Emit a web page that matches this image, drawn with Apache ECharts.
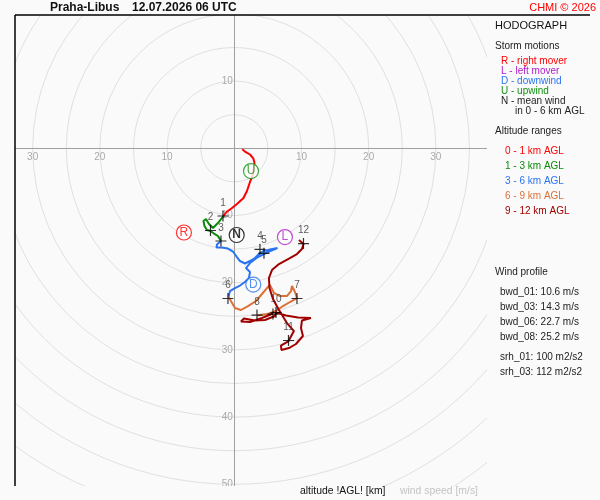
<!DOCTYPE html>
<html>
<head>
<meta charset="utf-8" />
<title>Hodograph</title>
<style>
html, body { margin: 0; padding: 0; background: #fafafa; }
#hodo { width: 600px; height: 500px; }
</style>
</head>
<body>
<div id="hodo"></div>
<script src="https://cdn.jsdelivr.net/npm/echarts@6/dist/echarts.min.js"></script>
<script>
// wind components u, v in m/s, one array per altitude range
var track01 = [[1.19,-0.15],[1.59,-0.48],[2.34,-0.92],[2.83,-1.49],[3.01,-2.19],[2.93,-2.93],[2.71,-4.12],
  [2.34,-5.01],[1.89,-6.35],[1.37,-7.40],[0.40,-8.29],[-0.42,-8.96],[-1.09,-9.40],[-1.61,-10.07]];
var track13 = [[-1.61,-10.07],[-2.43,-11.12],[-3.17,-11.86],[-3.76,-11.26],[-4.21,-10.52],[-4.58,-10.82],
  [-4.43,-11.56],[-4.06,-12.16],[-3.54,-12.31],[-3.02,-12.68],[-2.43,-13.05],[-1.98,-13.79]];
var track36 = [[-1.98,-13.79],[-2.57,-14.32],[-2.65,-14.76],[-1.83,-14.76],[-0.94,-14.91],[-0.19,-15.36],
  [0.33,-16.10],[0.85,-16.77],[1.59,-17.14],[2.34,-16.77],[3.08,-16.32],[3.82,-15.58],[4.42,-15.28],
  [5.31,-15.06],[6.43,-14.84],[5.01,-15.43],[3.53,-16.18],[2.34,-17.07],[1.74,-17.81],[2.34,-18.41],
  [2.19,-19.30],[1.59,-19.90],[0.85,-20.42],[0.10,-20.79],[-0.64,-21.24],[-0.86,-22.10]];
var track69 = [[-0.86,-22.10],[0.10,-23.77],[1.00,-24.06],[2.04,-23.47],[3.23,-22.72],[4.12,-21.68],
  [4.87,-20.79],[5.31,-20.34],[5.91,-21.53],[6.80,-21.98],[7.84,-21.98],[8.44,-21.24],[8.59,-20.49],
  [9.03,-21.38],[9.33,-22.28],[8.29,-22.87],[7.25,-23.47],[6.21,-24.21],[5.01,-24.66],[3.38,-24.88],
  [4.57,-24.73],[5.76,-24.58]];
var track912 = [[5.76,-24.58],[4.12,-25.25],[2.34,-25.85],[1.00,-25.77],[1.44,-25.33],[3.08,-25.63],
  [4.57,-25.55],[6.06,-24.96],[6.21,-24.43],[7.69,-24.88],[9.48,-25.18],[11.41,-25.25],[10.07,-25.63],
  [9.93,-26.74],[10.22,-27.93],[9.18,-29.12],[8.14,-29.72],[7.02,-30.01],[6.95,-29.35],[8.07,-28.68],
  [8.88,-27.19],[7.84,-26.00],[6.65,-24.06],[5.76,-22.43],[5.24,-20.79],[5.16,-19.30],[5.61,-18.11],
  [6.65,-17.22],[8.14,-16.40],[9.33,-15.73],[10.07,-14.99],[10.30,-14.24],[9.63,-13.65]];

var layerNames = ['0 - 1 km AGL', '1 - 3 km AGL', '3 - 6 km AGL', '6 - 9 km AGL', '9 - 12 km AGL'];
var layerColors = ['#ff0000', '#0a8a0a', '#2a74f0', '#dc7038', '#a00000'];

// wind at every km above ground
var kmLabels = ['1','2','3','4','5','6','7','8','9','10','11','12'];
var kmPoints = [[-1.68,-10.07],[-3.54,-12.23],[-1.98,-13.79],[3.82,-15.03],[4.42,-15.63],[-0.94,-22.35],
  [9.33,-22.35],[3.38,-24.81],[5.76,-24.66],[6.21,-24.43],[8.07,-28.60],[10.30,-14.17]];

// storm motions
var stormLetters = ['R', 'L', 'D', 'U', 'N'];
var stormPoints = [[-7.49,-12.53],[7.54,-13.20],[2.83,-20.27],[2.49,-3.38],[0.36,-12.90]];
var stormColors = ['#ff0000', '#b020c8', '#2a74f0', '#109010', '#000000'];
var stormNames = ['R - right mover', 'L - left mover', 'D - downwind', 'U - upwind', 'N - mean wind'];

var xTicks = [-30, -20, -10, 10, 20, 30];
var yTicks = [10, -10, -20, -30, -40, -50];
var ringStep = 5;

var profileLines = ['bwd_01: 10.6 m/s', 'bwd_03: 14.3 m/s', 'bwd_06: 22.7 m/s', 'bwd_08: 25.2 m/s'];
var helicityLines = ['srh_01: 100 m2/s2', 'srh_03: 112 m2/s2'];

var FONT = 'Liberation Sans, Arial, sans-serif';
var BG = '#fafafa';

function txt(x, y, s, color, size, align, weight) {
  return {
    type: 'text', x: x, y: y, z: 60,
    style: {
      text: s, fill: color, font: (weight || 'normal') + ' ' + size + 'px ' + FONT,
      align: align || 'left', textAlign: align || 'left',
      verticalAlign: 'middle', textVerticalAlign: 'middle'
    }
  };
}

var graphics = [
  // hide rings outside the plotting frame
  { type: 'rect', z: 50, shape: { x: 0, y: 0, width: 600, height: 15 }, style: { fill: BG } },
  { type: 'rect', z: 50, shape: { x: 0, y: 0, width: 15, height: 500 }, style: { fill: BG } },
  { type: 'rect', z: 50, shape: { x: 487, y: 0, width: 113, height: 500 }, style: { fill: BG } },
  { type: 'rect', z: 50, shape: { x: 0, y: 486, width: 600, height: 14 }, style: { fill: BG } },
  { type: 'line', z: 60, shape: { x1: 15, y1: 15, x2: 590, y2: 15 }, style: { stroke: '#000', lineWidth: 1.5 } },
  { type: 'line', z: 60, shape: { x1: 15, y1: 15, x2: 15, y2: 486 }, style: { stroke: '#000', lineWidth: 1.5 } },
  txt(50, 7.5, 'Praha-Libus', '#111', 12, 'left', 'bold'),
  txt(132, 7.5, '12.07.2026 06 UTC', '#111', 12, 'left', 'bold'),
  txt(596, 7.5, 'CHMI © 2026', '#ff0000', 11, 'right'),
  txt(495, 26, 'HODOGRAPH', '#111', 11),
  txt(495, 46.7, 'Storm motions', '#222', 10),
  txt(515, 111.7, 'in 0 - 6 km AGL', '#222', 10),
  txt(495, 131.7, 'Altitude ranges', '#222', 10),
  txt(495, 272.7, 'Wind profile', '#222', 10),
  txt(300, 491, 'altitude !AGL! [km]', '#111', 10.4),
  txt(400, 491, 'wind speed [m/s]', '#c4c4c4', 10.4)
];
stormNames.forEach(function (s, i) {
  graphics.push(txt(501, 61.7 + i * 10, s, i === 4 ? '#222' : stormColors[i], 10));
});
layerNames.forEach(function (s, i) {
  graphics.push(txt(505, 151.7 + i * 15, s, layerColors[i], 10));
});
profileLines.forEach(function (s, i) {
  graphics.push(txt(500, 292.7 + i * 14.7, s, '#222', 10));
});
helicityLines.forEach(function (s, i) {
  graphics.push(txt(500, 357.3 + i * 14.7, s, '#222', 10));
});

var tickLabel = { show: true, opacity: 1, formatter: function (p) { return String(Math.abs(p.value[0] || p.value[1])); },
  color: '#aaaaaa', fontSize: 10, fontFamily: FONT };

var tracks = [track01, track13, track36, track69, track912];
var series = [];
// speed labels sitting on the two axes
series.push({
  type: 'scatter', z: 1, animation: false, silent: true, symbolSize: 1,
  itemStyle: { color: 'rgba(0,0,0,0)' },
  label: Object.assign({ position: 'bottom', distance: 3 }, tickLabel),
  data: xTicks.map(function (v) { return [v, 0]; })
});
series.push({
  type: 'scatter', z: 1, animation: false, silent: true, symbolSize: 1,
  itemStyle: { color: 'rgba(0,0,0,0)' },
  label: Object.assign({ position: 'left', distance: 1 }, tickLabel),
  data: yTicks.map(function (v) { return [0, v]; })
});
tracks.forEach(function (t, i) {
  series.push({
    name: layerNames[i], type: 'line', data: t, symbol: 'none', z: 3 + i,
    lineStyle: { color: layerColors[i], width: 2 }, animation: false
  });
});
series.push({
  type: 'scatter', z: 10, animation: false,
  symbol: 'path://M0,5L10,5M5,0L5,10', symbolSize: 11,
  itemStyle: { color: 'none', borderColor: '#000', borderWidth: 1.2 },
  label: { show: true, position: 'top', distance: 0, formatter: '{b}', color: '#333', fontSize: 10, fontFamily: FONT },
  data: kmPoints.map(function (p, i) {
    var item = { name: kmLabels[i], value: p };
    if (kmLabels[i] === '9') item.label = { show: false }; // covered by the 10 km label
    return item;
  })
});
series.push({
  type: 'scatter', z: 12, animation: false, symbol: 'circle', symbolSize: 15,
  data: stormPoints.map(function (p, i) {
    return {
      name: stormLetters[i], value: p,
      itemStyle: { color: '#fff', borderColor: stormColors[i], borderWidth: 1.2 },
      label: { show: true, position: 'inside', formatter: '{b}', color: stormColors[i],
        fontSize: 12, fontFamily: FONT, fontWeight: i === 4 ? 'bold' : 'normal' }
    };
  })
});

var chart = echarts.init(document.getElementById('hodo'));
var option = {
  backgroundColor: BG,
  animation: false,
  grid: { left: 15, top: 15, width: 472, height: 471, containLabel: false, outerBoundsMode: 'none' },
  xAxis: {
    type: 'value', min: -32.63, max: 37.61,
    axisLine: { onZero: true, lineStyle: { color: '#a0a0a0', width: 1 } },
    axisTick: { show: false }, splitLine: { show: false }, axisLabel: { show: false }
  },
  yAxis: {
    type: 'value', min: -50.25, max: 19.84,
    axisLine: { onZero: true, lineStyle: { color: '#a0a0a0', width: 1 } },
    axisTick: { show: false }, splitLine: { show: false }, axisLabel: { show: false }
  },
  polar: { center: [234.3, 148.3], radius: 65 * 6.72 },
  angleAxis: {
    min: 0, max: 360, axisLine: { show: false }, axisTick: { show: false },
    axisLabel: { show: false }, splitLine: { show: false }
  },
  radiusAxis: {
    min: 0, max: 65, interval: ringStep,
    axisLine: { show: false }, axisTick: { show: false }, axisLabel: { show: false },
    splitLine: { show: true, lineStyle: { color: '#e0e0e0', width: 1 } }
  },
  graphic: graphics,
  series: series
};
chart.setOption(option);
</script>
</body>
</html>
